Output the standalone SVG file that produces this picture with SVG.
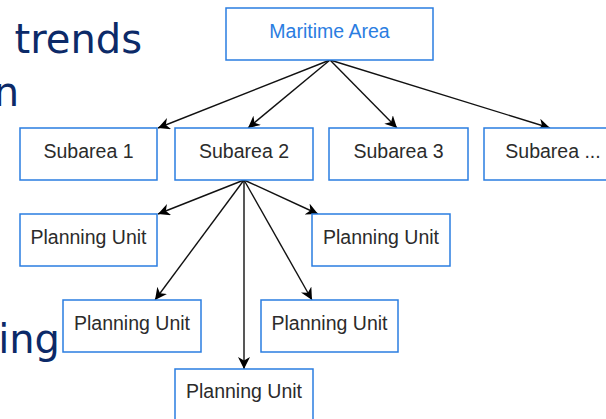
<svg xmlns="http://www.w3.org/2000/svg" width="606" height="419" viewBox="0 0 606 419">
<style>
.bg{font-family:"DejaVu Sans",sans-serif;font-size:40px;fill:#0c2a68}
.box{fill:#ffffff;stroke:#2a7de1;stroke-width:1.5}
.lbl{font-family:"Liberation Sans",Arial,sans-serif;font-size:19.5px;fill:#2b2b2b;text-anchor:middle}
.top{fill:#2a7de1}
.edge{stroke:#111111;stroke-width:1.4;fill:none;marker-end:url(#arr)}
</style>
<defs>
<marker id="arr" viewBox="0 0 10 10" refX="10" refY="5" markerWidth="12" markerHeight="12" markerUnits="userSpaceOnUse" orient="auto">
<path d="M0,0 L10,5 L0,10 L3,5 Z" fill="#000000"/>
</marker>
</defs>
<rect width="606" height="419" fill="#ffffff"/>
<g id="background-text">
<text class="bg" x="142" y="53" text-anchor="end">trends</text>
<text class="bg" x="19" y="106" text-anchor="end">n</text>
<text class="bg" x="60" y="353" text-anchor="end">ing</text>
</g>
<g id="connectors">
<line class="edge" x1="330" y1="60" x2="158" y2="128"/>
<line class="edge" x1="330" y1="60" x2="248" y2="128"/>
<line class="edge" x1="330" y1="60" x2="397" y2="128"/>
<line class="edge" x1="330" y1="60" x2="550" y2="128"/>
<line class="edge" x1="244" y1="180" x2="158" y2="214"/>
<line class="edge" x1="244" y1="180" x2="318" y2="214"/>
<line class="edge" x1="244" y1="180" x2="155" y2="300"/>
<line class="edge" x1="244" y1="180" x2="312" y2="300"/>
<line class="edge" x1="244" y1="180" x2="244" y2="369"/>
</g>
<g id="maritime-area"><rect class="box" x="226" y="8" width="207" height="52"/><text class="lbl top" x="329.5" y="37.5">Maritime Area</text></g>
<g id="subarea-1"><rect class="box" x="20" y="128" width="137" height="52"/><text class="lbl" x="88.5" y="158">Subarea 1</text></g>
<g id="subarea-2"><rect class="box" x="175" y="128" width="138" height="52"/><text class="lbl" x="244" y="158">Subarea 2</text></g>
<g id="subarea-3"><rect class="box" x="329" y="128" width="139" height="52"/><text class="lbl" x="398.5" y="158">Subarea 3</text></g>
<g id="subarea-more"><rect class="box" x="484" y="128" width="138" height="52"/><text class="lbl" x="553" y="158">Subarea ...</text></g>
<g id="pu-1"><rect class="box" x="20" y="214" width="137" height="52"/><text class="lbl" x="88.5" y="244">Planning Unit</text></g>
<g id="pu-2"><rect class="box" x="312" y="214" width="138" height="52"/><text class="lbl" x="381" y="244">Planning Unit</text></g>
<g id="pu-3"><rect class="box" x="63" y="300" width="138" height="52"/><text class="lbl" x="132" y="330">Planning Unit</text></g>
<g id="pu-4"><rect class="box" x="261" y="300" width="137" height="52"/><text class="lbl" x="329.5" y="330">Planning Unit</text></g>
<g id="pu-5"><rect class="box" x="175" y="369" width="138" height="60"/><text class="lbl" x="244" y="398">Planning Unit</text></g>
</svg>
